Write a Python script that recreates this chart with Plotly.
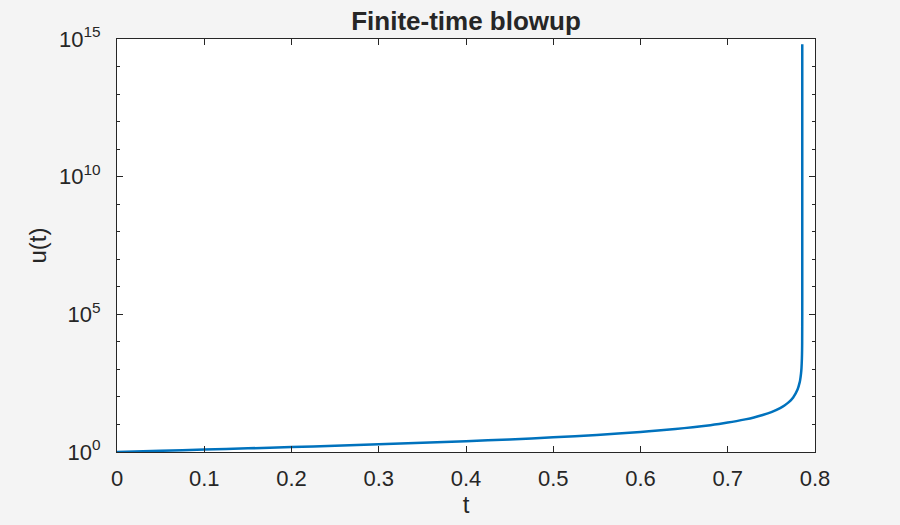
import plotly.graph_objects as go

# Values (t, u(t))
t_vals = [0.0, 0.05, 0.1, 0.15, 0.2, 0.25, 0.3, 0.35, 0.4, 0.45, 0.5,
          0.55, 0.6, 0.62, 0.64, 0.66, 0.68, 0.69, 0.7, 0.71, 0.72, 0.73,
          0.74, 0.75, 0.76, 0.765, 0.77, 0.775, 0.78, 0.7825, 0.783, 0.784,
          0.7845, 0.785, 0.7852, 0.7853, 0.78539, 0.785397, 0.7853981,
          0.78539816, 0.785398163]
u_vals = [1.0, 1.105, 1.223, 1.356, 1.508, 1.686, 1.896, 2.15, 2.465, 2.869, 3.408,
          4.169, 5.332, 5.978, 6.832, 7.961, 9.453, 10.45, 11.68, 13.24, 15.27, 18.03,
          22.11, 28.24, 39.37, 49.02, 64.94, 96.17, 185.3, 345.1, 417.0, 715.0,
          1114.0, 2512.0, 5050.0, 1.02e4, 1.23e5, 1.0e6, 1.0e8,
          1.0e10, 6.5e14]

y_major = [1, 1e5, 1e10, 1e15]
y_major_text = ["10<sup>0</sup>", "10<sup>5</sup>", "10<sup>10</sup>", "10<sup>15</sup>"]
y_minor = [10 ** k for k in range(16)]
x_ticks = [0, 0.1, 0.2, 0.3, 0.4, 0.5, 0.6, 0.7, 0.8]

font = "Liberation Sans, Arial, Helvetica, sans-serif"

fig = go.Figure()
fig.add_trace(go.Scatter(x=t_vals, y=u_vals, mode="lines",
                         line=dict(color="#0072BD", width=2.5, shape="spline", smoothing=0.6),
                         showlegend=False))

fig.update_layout(
    width=900, height=525,
    paper_bgcolor="#f4f4f4", plot_bgcolor="white",
    margin=dict(l=117, r=85, t=39, b=70),
    font=dict(family=font, size=22, color="#262626"),
    title=dict(text="<b>Finite-time blowup</b>", x=0.5, xref="paper",
               y=1, yref="paper", yanchor="bottom", pad=dict(b=9),
               font=dict(size=26, color="#262626")),
)

fig.update_xaxes(
    range=[0, 0.8], tickvals=x_ticks, ticktext=[f"{v:g}" for v in x_ticks],
    ticks="inside", ticklen=6, tickcolor="#262626", tickwidth=1,
    showline=True, linecolor="#262626", linewidth=1, mirror="ticks",
    showgrid=False, zeroline=False, ticklabelstandoff=7,
    title=dict(text="t", font=dict(size=24), standoff=5),
)
fig.update_yaxes(
    type="log", range=[0, 15], tickvals=y_major, ticktext=y_major_text,
    ticks="inside", ticklen=6, tickcolor="#262626", tickwidth=1,
    minor=dict(tickvals=y_minor, ticks="inside", ticklen=3, tickcolor="#262626"),
    showline=True, linecolor="#262626", linewidth=1, mirror="ticks",
    showgrid=False, zeroline=False, ticklabelstandoff=11,
    title=dict(text="u(t)", font=dict(size=24), standoff=5),
)

fig.write_html("out.html", config={"displayModeBar": False},
               post_script="document.body.style.margin='0';")
